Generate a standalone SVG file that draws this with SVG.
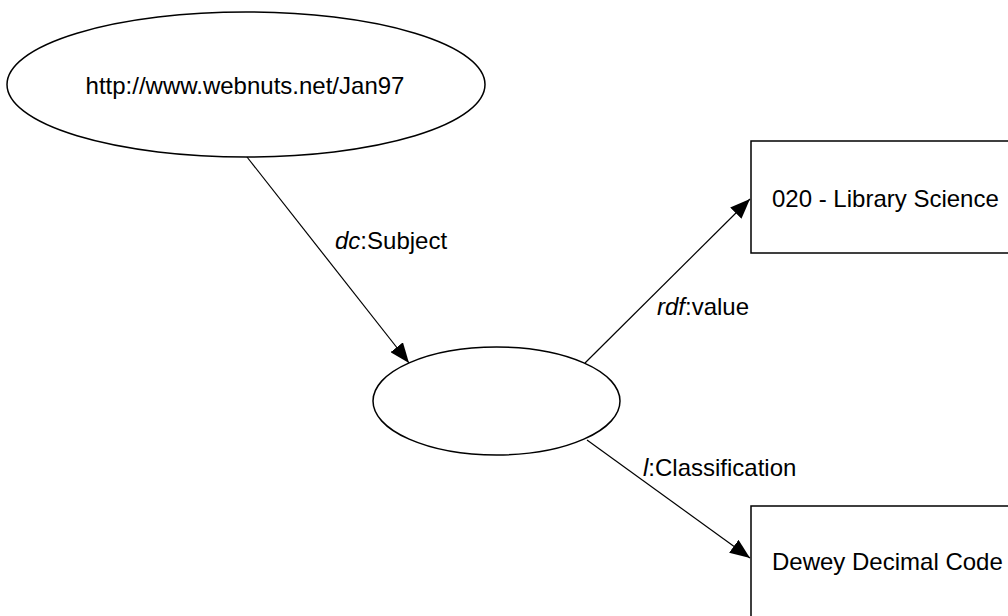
<svg xmlns="http://www.w3.org/2000/svg" width="1008" height="616" viewBox="0 0 1008 616">
<style>
.shape{fill:#fff;stroke:#000;stroke-width:1.5}
.edge{stroke:#000;stroke-width:1.2;fill:none}
text{font-family:"Liberation Sans",Arial,sans-serif;font-size:24px;fill:#000}
</style>
<defs>
<marker id="ah" markerUnits="userSpaceOnUse" markerWidth="20" markerHeight="16" viewBox="0 0 20 16" refX="20" refY="8" orient="auto">
<path d="M0,0 L20,8 L0,16 Z" fill="#000"/>
</marker>
</defs>
<rect width="1008" height="616" fill="#fff"/>
<g id="edges">
<line class="edge" x1="247" y1="157" x2="409" y2="363" marker-end="url(#ah)"/>
<line class="edge" x1="585" y1="363" x2="750" y2="199" marker-end="url(#ah)"/>
<line class="edge" x1="587" y1="440" x2="750" y2="558" marker-end="url(#ah)"/>
<text x="335" y="249"><tspan font-style="italic">dc</tspan>:Subject</text>
<text x="657" y="315"><tspan font-style="italic">rdf</tspan>:value</text>
<text x="643" y="476"><tspan font-style="italic">l</tspan>:Classification</text>
</g>
<g id="node-resource">
<ellipse class="shape" cx="246" cy="84.5" rx="239" ry="72.5"/>
<text x="245" y="94" text-anchor="middle">http://www.webnuts.net/Jan97</text>
</g>
<g id="node-blank">
<ellipse class="shape" cx="496.5" cy="401" rx="123.5" ry="54"/>
</g>
<g id="node-library">
<rect class="shape" x="751" y="141" width="270" height="112"/>
<text x="772" y="207">020 - Library Science</text>
</g>
<g id="node-dewey">
<rect class="shape" x="751" y="506" width="270" height="130"/>
<text x="772" y="570">Dewey Decimal Code</text>
</g>
</svg>
